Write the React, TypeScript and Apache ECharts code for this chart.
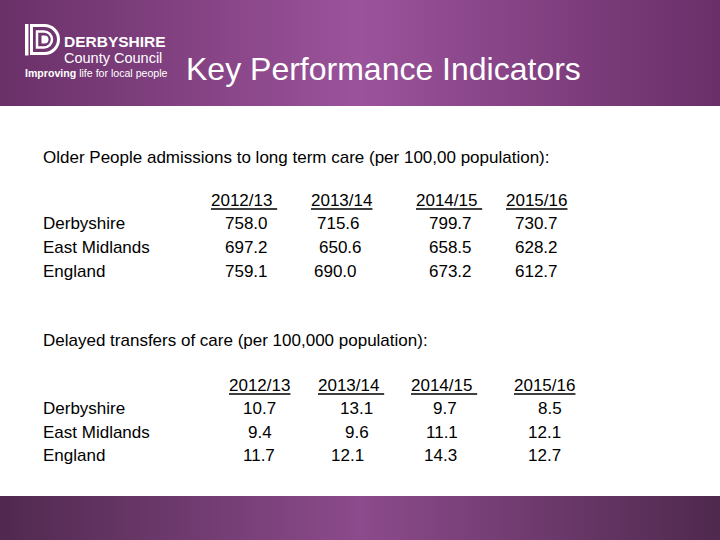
import React, { useEffect, useRef } from "react";
import * as echarts from "echarts";

const years1 = ["2012/13 ", "2013/14", "2014/15 ", "2015/16"];
const years2 = ["2012/13", "2013/14 ", "2014/15 ", "2015/16"];
const regions = ["Derbyshire", "East Midlands", "England"];
const admissions = [
  ["758.0", "715.6", "799.7", "730.7"],
  ["697.2", "650.6", "658.5", "628.2"],
  ["759.1", "690.0", "673.2", "612.7"],
];
const delayed = [
  ["10.7", "13.1", "9.7", "8.5"],
  ["9.4", "9.6", "11.1", "12.1"],
  ["11.7", "12.1", "14.3", "12.7"],
];
const heading1 = "Older People admissions to long term care (per 100,00 population):";
const heading2 = "Delayed transfers of care (per 100,000 population):";
const title = "Key Performance Indicators";
const logoName = "DERBYSHIRE";
const logoSub = "County Council";
const taglineBold = "Improving";
const taglineRest = "life for local people";

// layout (positions only)
const hdrX1 = [211, 311, 416, 506];
const valX1 = [
  [225, 317, 429, 515],
  [225, 319, 429, 515],
  [225, 314, 429, 515],
];
const hdrX2 = [229, 318, 411, 514];
const valX2 = [
  [243, 340, 433, 538],
  [248, 345, 426, 528],
  [243, 331, 424, 528],
];

const FONT = "Liberation Sans, Arial, sans-serif";

echarts.graphic.registerShape(
  "dOuter",
  echarts.graphic.extendPath("M0,0 H13 A14,14 0 0 1 13,28 H0 Z", {})
);
echarts.graphic.registerShape(
  "dMid",
  echarts.graphic.extendPath("M0,0 H7 A8,8 0 0 1 7,16 H0 Z", {})
);
echarts.graphic.registerShape(
  "dInner",
  echarts.graphic.extendPath("M0,0 H3 A4,4 0 0 1 3,8 H0 Z", {})
);

let canvasCtx: CanvasRenderingContext2D | null = null;
function measure(t: string, size: number, weight = "normal") {
  if (!canvasCtx) canvasCtx = document.createElement("canvas").getContext("2d");
  canvasCtx!.font = `${weight} ${size}px ${FONT}`;
  return canvasCtx!.measureText(t).width;
}

function textEl(text: string, x: number, y: number, size: number, color = "#000", weight: any = "normal") {
  return {
    type: "text",
    x,
    y,
    style: {
      text,
      fill: color,
      font: `${weight} ${size}px ${FONT}`,
      verticalAlign: "middle",
    },
  };
}

function table(years: string[], hx: number[], vx: number[][], values: string[][], hy: number, rowY: number[]) {
  const els: any[] = [];
  years.forEach((yr, i) => {
    els.push(textEl(yr, hx[i], hy, 17));
    const wpx = measure(yr, 17);
    els.push({
      type: "line",
      shape: { x1: hx[i], y1: hy + 9, x2: hx[i] + wpx, y2: hy + 9 },
      style: { stroke: "#000", lineWidth: 1.5 },
    });
  });
  regions.forEach((r, ri) => {
    els.push(textEl(r, 43, rowY[ri], 17));
    values[ri].forEach((v, ci) => {
      els.push(textEl(v, vx[ri][ci], rowY[ri], 17));
    });
  });
  return els;
}

export default function App() {
  const ref = useRef<HTMLDivElement>(null);
  useEffect(() => {
    document.body.style.margin = "0";
    const chart = echarts.init(ref.current!, null, { renderer: "svg" });
    const headerGrad = new echarts.graphic.LinearGradient(0, 0, 1, 0, [
      { offset: 0, color: "#6a3068" },
      { offset: 0.5, color: "#9b539b" },
      { offset: 1, color: "#6a2f69" },
    ]);
    const footerGrad = new echarts.graphic.LinearGradient(0, 0, 1, 0, [
      { offset: 0, color: "#50294f" },
      { offset: 0.5, color: "#8c4b8c" },
      { offset: 1, color: "#4f294e" },
    ]);
    const tagSize = 10.6;
    const boldW = measure(taglineBold + " ", tagSize, "bold");
    const elements: any[] = [
      { type: "rect", shape: { x: 0, y: 0, width: 720, height: 540 }, style: { fill: "#ffffff" } },
      { type: "rect", shape: { x: 0, y: 0, width: 720, height: 106 }, style: { fill: headerGrad } },
      { type: "rect", shape: { x: 0, y: 496, width: 720, height: 44 }, style: { fill: footerGrad } },
      // logo
      { type: "rect", shape: { x: 25, y: 24, width: 3.5, height: 31.5 }, style: { fill: "#fff" } },
      { type: "dOuter", x: 31.5, y: 25.5, style: { fill: "none", stroke: "#fff", lineWidth: 3 } },
      { type: "dMid", x: 37, y: 31.5, style: { fill: "none", stroke: "#fff", lineWidth: 2.5 } },
      { type: "dInner", x: 41.5, y: 35.5, style: { fill: "#fff" } },
      textEl(logoName, 64, 41.5, 15.5, "#fff", "bold"),
      textEl(logoSub, 64, 57.5, 14.5, "#fff"),
      textEl(taglineBold, 25, 72.5, tagSize, "#fff", "bold"),
      textEl(taglineRest, 25 + boldW, 72.5, tagSize, "#fff"),
      textEl(title, 186, 69, 32, "#fff"),
      textEl(heading1, 43, 157, 17),
      textEl(heading2, 43, 340, 17),
      ...table(years1, hdrX1, valX1, admissions, 200, [223, 247, 271]),
      ...table(years2, hdrX2, valX2, delayed, 385, [408, 432, 455]),
    ];
    chart.setOption({ animation: false, graphic: { elements } });
    return () => chart.dispose();
  }, []);
  return <div ref={ref} style={{ position: "absolute", left: 0, top: 0, width: 720, height: 540 }} />;
}
